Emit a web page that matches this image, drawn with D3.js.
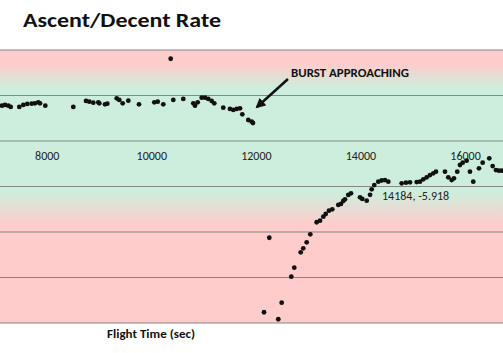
<!DOCTYPE html>
<html>
<head>
<meta charset="utf-8">
<script src="https://cdn.jsdelivr.net/npm/d3@7"></script>
<style>
  body { margin: 0; background: #fff; }
  svg { display: block; }
</style>
</head>
<body>
<div id="chart"></div>
<script>
let w = 503;
let h = 353;

// flight time (sec) and rate (m/s)
let flightTime = [
  7145, 7203, 7266, 7312, 7476, 7553, 7629, 7713, 7776, 7839, 7872, 7973,
  8509, 8752, 8815, 8891, 8987, 9006, 9115, 9159, 9339, 9388, 9453, 9561,
  9765, 10058, 10123, 10230, 10371, 10421, 10612, 10804, 10836, 10888, 10964, 11027,
  11090, 11155, 11205, 11377, 11505, 11569, 11634, 11697, 11741, 11855, 11920, 11945,
  12156, 12257, 12429, 12494, 12678, 12735, 12858, 12907, 12972, 13041, 13163, 13227,
  13290, 13336, 13399, 13462, 13577, 13628, 13672, 13705, 13768, 13820, 13992, 14036,
  14120, 14184, 14215, 14265, 14342, 14406, 14470, 14533, 14789, 14871, 14948, 15076,
  15139, 15202, 15267, 15330, 15393, 15445, 15617, 15680, 15745, 15789, 15852, 15904,
  15956, 16032, 16095, 16158, 16267, 16338, 16464, 16529, 16592, 16650, 16707
];
let rate = [
  3.88, 3.96, 3.88, 3.74, 3.74, 3.96, 4.07, 4.10, 4.14, 4.25, 4.14, 3.88,
  3.74, 4.40, 4.32, 4.21, 4.25, 4.14, 4.03, 4.10, 4.69, 4.51, 4.14, 4.43,
  4.03, 4.25, 4.32, 4.03, 9.04, 4.51, 4.62, 4.14, 3.88, 4.25, 4.76, 4.76,
  4.62, 4.40, 4.14, 3.66, 3.52, 3.41, 3.52, 3.59, 2.93, 2.31, 2.12, 1.98,
  -18.82, -10.63, -19.59, -17.77, -14.91, -13.92, -12.23, -11.79, -11.13, -10.25, -8.93, -8.76,
  -8.32, -8.02, -7.66, -7.51, -7.03, -6.92, -6.59, -6.41, -5.93, -5.75, -6.19, -6.37,
  -6.56, -5.918, -5.31, -4.84, -4.47, -4.34, -4.29, -4.47, -4.65, -4.58, -4.54, -4.51,
  -4.47, -4.21, -3.99, -3.74, -3.55, -3.37, -3.37, -3.99, -4.29, -4.10, -3.37, -2.64,
  -2.38, -2.16, -3.37, -4.47, -3.00, -2.38, -1.90, -2.75, -3.19, -3.26, -3.26
];

let xTicks = [8000, 10000, 12000, 14000, 16000];
let yTicks = [10, 5, 0, -5, -10, -15, -20];

let titleText = "Ascent/Decent Rate";
let xTitle = "Flight Time (sec)";
let noteText = "BURST APPROACHING";
let labelTime = 14184;
let labelRate = -5.918;

let data = flightTime.map((t, i) => ({ t: t, r: rate[i] }));

let xScale = d3.scaleLinear().domain([8000, 16000]).range([46.7, 465]);
let yScale = d3.scaleLinear().domain([-20, 10]).range([323, 50]);

let svg = d3.select("#chart").append("svg")
  .attr("width", w)
  .attr("height", h);

// background bands (red - green - red)
let defs = svg.append("defs");
let grad = defs.append("linearGradient")
  .attr("id", "bg")
  .attr("gradientUnits", "userSpaceOnUse")
  .attr("x1", 0).attr("x2", 0)
  .attr("y1", yScale(10)).attr("y2", yScale(-20));
let red = "#ffcccc", green = "#cdeedc";
[[0, red], [0.05, red], [0.14, green], [0.52, green], [0.64, red], [1, red]].forEach(s => {
  grad.append("stop").attr("offset", s[0]).attr("stop-color", s[1]);
});

svg.append("rect")
  .attr("x", 0)
  .attr("y", yScale(10))
  .attr("width", w)
  .attr("height", yScale(-20) - yScale(10))
  .attr("fill", "url(#bg)");

// gridlines
svg.append("g").attr("class", "grid")
  .selectAll("line").data(yTicks).enter()
  .append("line")
    .attr("x1", 0).attr("x2", w)
    .attr("y1", d => yScale(d)).attr("y2", d => yScale(d))
    .attr("stroke", "#868686")
    .attr("stroke-width", 1.2);

// x axis along zero
let xAxisGroup = svg.append("g")
  .attr("transform", "translate(0," + yScale(0) + ")")
  .call(d3.axisBottom(xScale).tickValues(xTicks).tickSize(0).tickPadding(10).tickFormat(d3.format("d")));
xAxisGroup.select(".domain").remove();
xAxisGroup.selectAll("text")
  .attr("font-family", "Carlito, Lato, 'Liberation Sans', sans-serif")
  .attr("font-size", 12)
  .attr("fill", "#222");

// points
svg.append("g").selectAll("circle").data(data).enter()
  .append("circle")
    .attr("cx", d => xScale(d.t))
    .attr("cy", d => yScale(d.r))
    .attr("r", 2.4)
    .attr("fill", "#111");

// data label
svg.append("text")
  .attr("x", xScale(labelTime) + 12)
  .attr("y", yScale(labelRate) + 5)
  .attr("font-family", "Carlito, Lato, 'Liberation Sans', sans-serif")
  .attr("font-size", 12)
  .attr("fill", "#222")
  .text(labelTime + ", " + labelRate);

// title
svg.append("text")
  .attr("x", 23)
  .attr("y", 27)
  .attr("font-family", "Carlito, Lato, 'Liberation Sans', sans-serif")
  .attr("font-weight", "bold")
  .attr("font-size", 20)
  .attr("textLength", 198)
  .attr("lengthAdjust", "spacingAndGlyphs")
  .attr("fill", "#111")
  .text(titleText);

// axis title
svg.append("text")
  .attr("x", 107)
  .attr("y", 338)
  .attr("font-family", "Carlito, Lato, 'Liberation Sans', sans-serif")
  .attr("font-weight", "bold")
  .attr("font-size", 11)
  .attr("textLength", 88)
  .attr("lengthAdjust", "spacingAndGlyphs")
  .attr("fill", "#111")
  .text(xTitle);

// annotation
svg.append("text")
  .attr("x", 291)
  .attr("y", 77)
  .attr("font-family", "Carlito, Lato, 'Liberation Sans', sans-serif")
  .attr("font-weight", "bold")
  .attr("font-size", 11)
  .attr("textLength", 118)
  .attr("lengthAdjust", "spacingAndGlyphs")
  .attr("fill", "#111")
  .text(noteText);

defs.append("marker")
  .attr("id", "head")
  .attr("viewBox", "0 0 10 10")
  .attr("refX", 8).attr("refY", 5)
  .attr("markerWidth", 4).attr("markerHeight", 4)
  .attr("orient", "auto")
  .append("path")
    .attr("d", "M0,0 L10,5 L0,10 z")
    .attr("fill", "#111");

svg.append("line")
  .attr("x1", 288).attr("y1", 79)
  .attr("x2", 257).attr("y2", 107)
  .attr("stroke", "#111")
  .attr("stroke-width", 2.5)
  .attr("marker-end", "url(#head)");
</script>
</body>
</html>
